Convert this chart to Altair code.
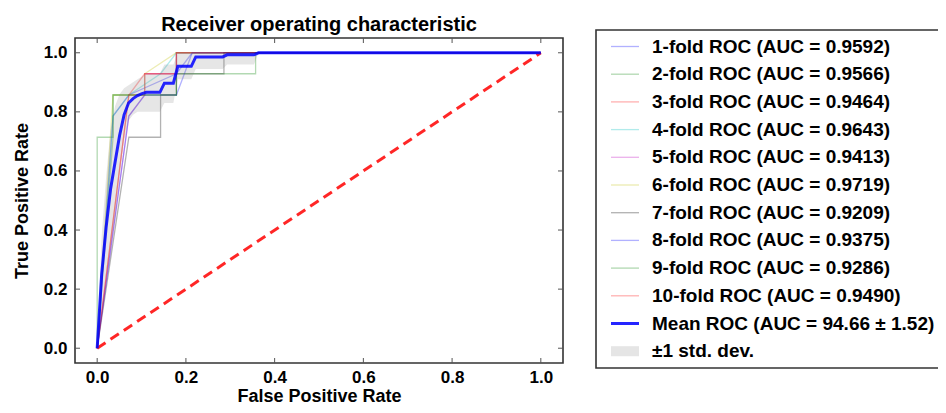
import altair as alt
import pandas as pd

# ---------------- data ----------------
fold_labels = [
    "1-fold ROC (AUC = 0.9592)",
    "2-fold ROC (AUC = 0.9566)",
    "3-fold ROC (AUC = 0.9464)",
    "4-fold ROC (AUC = 0.9643)",
    "5-fold ROC (AUC = 0.9413)",
    "6-fold ROC (AUC = 0.9719)",
    "7-fold ROC (AUC = 0.9209)",
    "8-fold ROC (AUC = 0.9375)",
    "9-fold ROC (AUC = 0.9286)",
    "10-fold ROC (AUC = 0.9490)",
]
mean_label = "Mean ROC (AUC = 94.66 ± 1.52)"
std_label = "±1 std. dev."

fold_fpr = [
    [0, 0.0357, 0.0714, 0.1786, 0.2143, 1.0],
    [0, 0.0, 0.0357, 0.0357, 0.1786, 0.1786, 1.0],
    [0, 0.0714, 0.1071, 0.1071, 0.1786, 0.1786, 1.0],
    [0, 0.0357, 0.0714, 0.1429, 0.1786, 1.0],
    [0, 0.0714, 0.1071, 0.1071, 0.1786, 0.1786, 1.0],
    [0, 0.0357, 0.1071, 0.1071, 0.1786, 1.0],
    [0, 0.0714, 0.1429, 0.1429, 0.1786, 0.1786, 0.2857, 0.2857, 1.0],
    [0, 0.0714, 0.1071, 0.1786, 0.2143, 1.0],
    [0, 0.0357, 0.0357, 0.1786, 0.1786, 0.3571, 0.3571, 1.0],
    [0, 0.0714, 0.1071, 0.1786, 0.1786, 1.0],
]
fold_tpr = [
    [0, 0.786, 0.857, 0.929, 1.0, 1.0],
    [0, 0.714, 0.714, 0.857, 0.857, 1.0, 1.0],
    [0, 0.857, 0.857, 0.929, 0.929, 1.0, 1.0],
    [0, 0.786, 0.857, 0.929, 1.0, 1.0],
    [0, 0.786, 0.857, 0.929, 0.929, 1.0, 1.0],
    [0, 0.857, 0.857, 0.929, 1.0, 1.0],
    [0, 0.714, 0.714, 0.857, 0.857, 0.929, 0.929, 1.0, 1.0],
    [0, 0.786, 0.857, 0.857, 1.0, 1.0],
    [0, 0.714, 0.857, 0.857, 0.929, 0.929, 1.0, 1.0],
    [0, 0.857, 0.929, 0.929, 1.0, 1.0],
]

mean_fpr = [0, 0.0101, 0.0202, 0.0303, 0.0404, 0.0505, 0.0606, 0.0707, 0.0808,
            0.0909, 0.101, 0.1111, 0.1414, 0.1515, 0.1717, 0.1818, 0.2121,
            0.2222, 0.2828, 0.2929, 0.3535, 0.3636, 1.0]
mean_tpr = [0, 0.25, 0.41, 0.54, 0.63, 0.72, 0.79, 0.83, 0.845,
            0.855, 0.862, 0.866, 0.866, 0.897, 0.897, 0.954, 0.954,
            0.986, 0.986, 0.993, 0.993, 1.0, 1.0]
band_lo = [0, 0.12, 0.24, 0.34, 0.44, 0.58, 0.70, 0.77, 0.79,
           0.80, 0.80, 0.80, 0.80, 0.83, 0.83, 0.91, 0.91,
           0.945, 0.945, 0.96, 0.96, 1.0, 1.0]
band_hi = [0, 0.38, 0.58, 0.74, 0.82, 0.86, 0.88, 0.89, 0.90,
           0.91, 0.92, 0.93, 0.93, 0.96, 0.96, 1.0, 1.0,
           1.0, 1.0, 1.0, 1.0, 1.0, 1.0]

tick_values = [0.0, 0.2, 0.4, 0.6, 0.8, 1.0]

fold_colors = ["#0000ff", "#008000", "#ff0000", "#00bfbf", "#bf00bf",
               "#bfbf00", "#000000", "#0000ff", "#008000", "#ff0000"]

# ---------------- tables ----------------
rows = []
for lab, fx, ty in zip(fold_labels, fold_fpr, fold_tpr):
    for i, (a, b) in enumerate(zip(fx, ty)):
        rows.append({"series": lab, "fpr": a, "tpr": b, "idx": i})
folds_df = pd.DataFrame(rows)
mean_df = pd.DataFrame({"series": mean_label, "fpr": mean_fpr, "tpr": mean_tpr,
                        "idx": list(range(len(mean_fpr)))})
band_df = pd.DataFrame({"fpr": mean_fpr, "lo": band_lo, "hi": band_hi})
diag_df = pd.DataFrame({"fpr": [0.0, 1.0], "tpr": [0.0, 1.0]})
ticks_df = pd.DataFrame({"v": tick_values})

W, H = 488, 325
FONT = "Liberation Sans"

all_labels = fold_labels + [mean_label, std_label]
color_scale = alt.Scale(domain=all_labels, range=fold_colors + ["#0000ff", "#808080"])
opacity_scale = alt.Scale(type="ordinal", domain=all_labels, range=[0.3] * 10 + [0.85, 0.2])
width_scale = alt.Scale(type="ordinal", domain=all_labels, range=[1.3] * 10 + [3, 10])

legend = alt.Legend(title=None, orient="none", legendX=521, legendY=-8,
                    symbolType="stroke", symbolSize=784, symbolOffset=6,
                    labelFont=FONT, labelFontSize=19, labelFontWeight="bold",
                    labelColor="black", labelLimit=500, labelOffset=8,
                    clipHeight=25, rowPadding=2.7, padding=4, strokeColor="#333")

xs = alt.Scale(domain=[-0.05, 1.05], nice=False, zero=False)
ys = alt.Scale(domain=[-0.05, 1.05], nice=False, zero=False)
x_axis = alt.Axis(values=tick_values, format=".1f", title="False Positive Rate",
                  labelPadding=6, titlePadding=2)
y_axis = alt.Axis(values=tick_values, format=".1f", title="True Positive Rate",
                  labelPadding=8, titlePadding=12)


def X(field):
    return alt.X(field, scale=xs, axis=x_axis)


def Y(field):
    return alt.Y(field, scale=ys, axis=y_axis)


series_enc = dict(
    color=alt.Color("series:N", scale=color_scale, legend=legend),
    opacity=alt.Opacity("series:N", scale=opacity_scale, legend=legend),
    strokeWidth=alt.StrokeWidth("series:N", scale=width_scale, legend=legend),
)

folds = alt.Chart(folds_df).mark_line().encode(
    x=X("fpr:Q"), y=Y("tpr:Q"), order=alt.Order("idx:Q"), detail="series:N",
    **series_enc)

band = alt.Chart(band_df).mark_area(color="#808080", opacity=0.2).encode(
    x=X("fpr:Q"), y=Y("lo:Q"), y2="hi:Q")

diag = alt.Chart(diag_df).mark_line(color="red", strokeDash=[10, 6], strokeWidth=3,
                                    opacity=0.85).encode(x=X("fpr:Q"), y=Y("tpr:Q"))

mean = alt.Chart(mean_df).mark_line().encode(
    x=X("fpr:Q"), y=Y("tpr:Q"), order=alt.Order("idx:Q"), **series_enc)

tick_style = dict(color="#555555", strokeWidth=1)
t_bottom = alt.Chart(ticks_df).mark_rule(**tick_style).encode(
    x=X("v:Q"), y=alt.value(H), y2=alt.value(H - 5))
t_top = alt.Chart(ticks_df).mark_rule(**tick_style).encode(
    x=X("v:Q"), y=alt.value(0), y2=alt.value(5))
t_left = alt.Chart(ticks_df).mark_rule(**tick_style).encode(
    y=Y("v:Q"), x=alt.value(0), x2=alt.value(5))
t_right = alt.Chart(ticks_df).mark_rule(**tick_style).encode(
    y=Y("v:Q"), x=alt.value(W), x2=alt.value(W - 5))

chart = alt.layer(folds, band, diag, mean, t_bottom, t_top, t_left, t_right).properties(
    width=W, height=H,
    title=alt.TitleParams("Receiver operating characteristic", font=FONT, fontSize=20,
                          fontWeight="bold", color="black", offset=-6, anchor="middle"),
    padding={"left": 67, "top": 30, "right": 375, "bottom": 42},
    autosize=alt.AutoSizeParams(type="none"),
).configure_view(
    stroke="#333333", strokeWidth=1.6
).configure_axis(
    grid=False, ticks=False, domain=False,
    labelFont=FONT, labelFontSize=17, labelFontWeight="bold", labelColor="black",
    titleFont=FONT, titleFontSize=18, titleFontWeight="bold", titleColor="black",
).configure_legend(
    strokeWidth=1.6
)

chart.save("out.html", embed_options={"renderer": "svg", "actions": False})
